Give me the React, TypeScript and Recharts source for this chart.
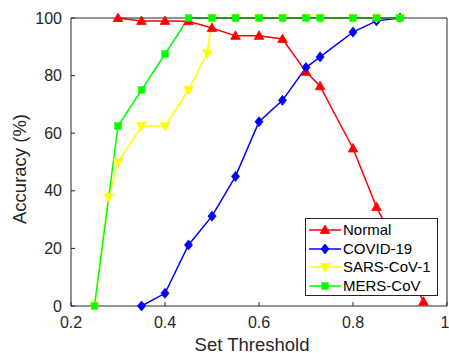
import React from 'react';
import { LineChart, Line, XAxis, YAxis } from 'recharts';

const xTicks = [0.2, 0.4, 0.6, 0.8, 1];
const yTicks = [0, 20, 40, 60, 80, 100];

const normalX = [0.3, 0.35, 0.4, 0.45, 0.5, 0.55, 0.6, 0.65, 0.7, 0.73, 0.8, 0.85, 0.95];
const normalY = [100, 99, 99, 98.9, 96.5, 93.8, 93.8, 92.7, 81.3, 76.3, 54.7, 34.4, 1.5];

const covidX = [0.35, 0.4, 0.45, 0.5, 0.55, 0.6, 0.65, 0.7, 0.73, 0.8, 0.85, 0.9];
const covidY = [0, 4.4, 21.2, 31.2, 45, 64, 71.4, 82.8, 86.5, 95.1, 99, 100];

const sarsX = [0.25, 0.28, 0.3, 0.35, 0.4, 0.45, 0.49, 0.5, 0.55, 0.6, 0.65, 0.7, 0.73, 0.8, 0.85, 0.9];
const sarsY = [0, 37.8, 49.8, 62.5, 62.5, 75, 87.8, 100, 100, 100, 100, 100, 100, 100, 100, 100];

const mersX = [0.25, 0.3, 0.35, 0.4, 0.45, 0.5, 0.55, 0.6, 0.65, 0.7, 0.73, 0.8, 0.85, 0.9];
const mersY = [0, 62.5, 75, 87.5, 100, 100, 100, 100, 100, 100, 100, 100, 100, 100];

const seriesNames = ['Normal', 'COVID-19', 'SARS-CoV-1', 'MERS-CoV'];
const seriesColors = ['#ff0000', '#0000ff', '#ffff00', '#00ff00'];
const seriesShapes = ['up', 'diamond', 'down', 'square'];

const zip = (xs: number[], ys: number[]) => xs.map((x, i) => ({ x, y: ys[i] }));

const allData = [zip(normalX, normalY), zip(covidX, covidY), zip(sarsX, sarsY), zip(mersX, mersY)];

const FONT = '"Liberation Sans", Arial, Helvetica, sans-serif';
const AX = '#262626';

function Marker({ shape, cx, cy, color }: { shape: string; cx: number; cy: number; color: string }) {
  if (cx == null || cy == null) return null;
  if (shape === 'up') {
    return <polygon points={`${cx},${cy - 5} ${cx - 4.8},${cy + 3.5} ${cx + 4.8},${cy + 3.5}`} fill={color} stroke={color} strokeWidth={0.8} />;
  }
  if (shape === 'down') {
    return <polygon points={`${cx},${cy + 5} ${cx - 4.8},${cy - 3.5} ${cx + 4.8},${cy - 3.5}`} fill={color} stroke={color} strokeWidth={0.8} />;
  }
  if (shape === 'diamond') {
    return <polygon points={`${cx},${cy - 5} ${cx + 4},${cy} ${cx},${cy + 5} ${cx - 4},${cy}`} fill={color} stroke={color} strokeWidth={0.8} />;
  }
  return <rect x={cx - 3.3} y={cy - 3.3} width={6.6} height={6.6} fill={color} stroke={color} strokeWidth={0.5} />;
}

const makeDot = (shape: string, color: string) => (props: any) => (
  <Marker key={`${shape}-${props.index}`} shape={shape} cx={props.cx} cy={props.cy} color={color} />
);

const fmt = (v: number) => (v === 1 ? '1' : String(v));

export default function App() {
  return (
    <div style={{ position: 'absolute', left: 0, top: 0, width: 449, height: 353, background: '#fff' }}>
      <LineChart width={449} height={353} margin={{ top: 17, right: 1, bottom: 0, left: 0 }}>
        <XAxis
          xAxisId={0}
          dataKey="x"
          type="number"
          domain={[0.2, 1]}
          ticks={xTicks}
          tickFormatter={fmt}
          allowDataOverflow
          height={47}
          tickSize={-4}
          tickMargin={14.3}
          stroke={AX}
          tick={{ fill: AX, fontSize: 16, fontFamily: FONT }}
          label={{
            content: () => (
              <text x={252} y={350.5} textAnchor="middle" fill={AX} fontSize={18.5} fontFamily={FONT}>
                Set Threshold
              </text>
            ),
          }}
        />
        <XAxis
          xAxisId="top"
          orientation="top"
          dataKey="x"
          type="number"
          domain={[0.2, 1]}
          ticks={xTicks}
          allowDataOverflow
          height={1}
          tickSize={-4}
          tick={false}
          stroke={AX}
        />
        <YAxis
          yAxisId={0}
          type="number"
          domain={[0, 100]}
          ticks={yTicks}
          width={71}
          tickSize={-4}
          tickMargin={13}
          stroke={AX}
          tick={{ fill: AX, fontSize: 16, fontFamily: FONT }}
          label={{
            content: () => (
              <text
                x={0}
                y={0}
                transform="translate(25.5,169) rotate(-90)"
                textAnchor="middle"
                fill={AX}
                fontSize={18.5}
                fontFamily={FONT}
              >
                Accuracy (%)
              </text>
            ),
          }}
        />
        <YAxis
          yAxisId="right"
          orientation="right"
          type="number"
          domain={[0, 100]}
          ticks={yTicks}
          width={1}
          tickSize={-4}
          tick={false}
          stroke={AX}
        />
        {allData.map((d, i) => (
          <Line
            key={seriesNames[i]}
            xAxisId={0}
            yAxisId={0}
            data={d}
            dataKey="y"
            name={seriesNames[i]}
            stroke={seriesColors[i]}
            strokeWidth={1.5}
            dot={makeDot(seriesShapes[i], seriesColors[i])}
            activeDot={false}
            isAnimationActive={false}
          />
        ))}
      </LineChart>
      <div
        style={{
          position: 'absolute',
          left: 305,
          top: 218,
          width: 133,
          height: 78,
          border: `1px solid ${AX}`,
          background: '#fff',
          boxSizing: 'border-box',
          fontFamily: FONT,
          fontSize: 15,
          color: '#000',
          paddingTop: 2,
        }}
      >
        {seriesNames.map((n, i) => (
          <div key={n} style={{ display: 'flex', alignItems: 'center', height: 18.6 }}>
            <svg width={37} height={14} style={{ display: 'block' }}>
              <line x1={3} x2={35} y1={7} y2={7} stroke={seriesColors[i]} strokeWidth={1.5} />
              <Marker shape={seriesShapes[i]} cx={19} cy={7} color={seriesColors[i]} />
            </svg>
            <span style={{ lineHeight: '18px', whiteSpace: 'nowrap' }}>{n}</span>
          </div>
        ))}
      </div>
    </div>
  );
}
